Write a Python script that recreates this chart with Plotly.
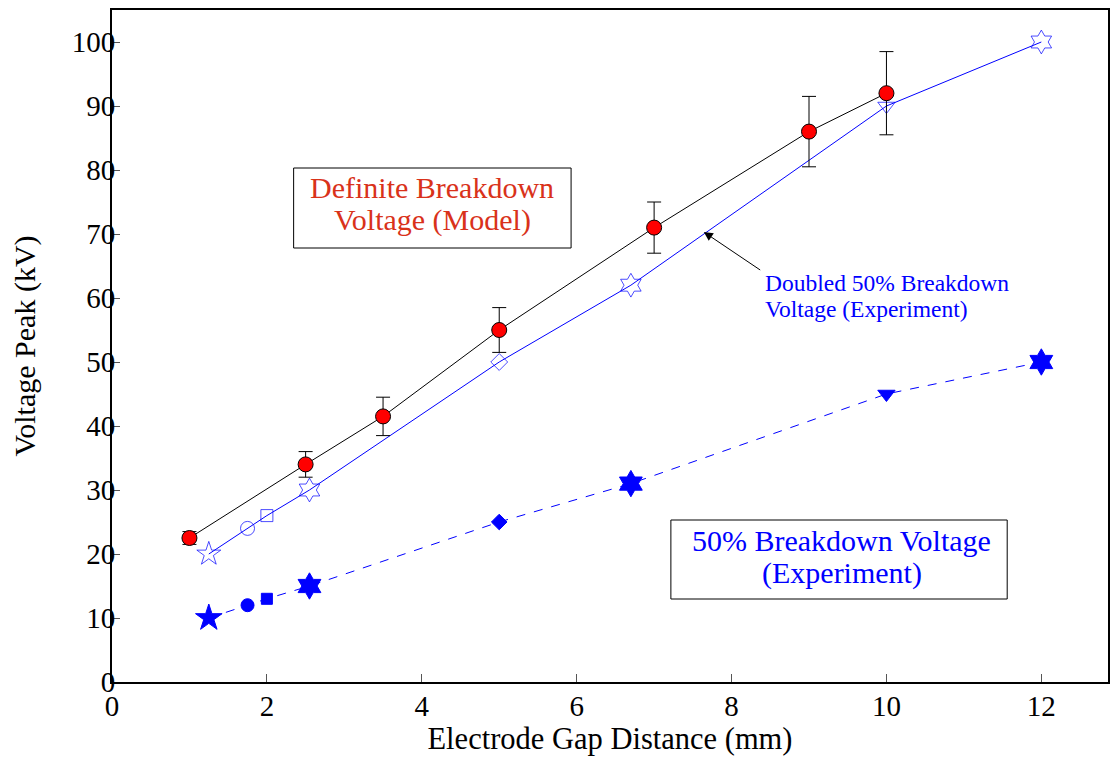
import plotly.graph_objects as go

# Definite breakdown voltage (model)
model_x = [1, 2.5, 3.5, 5, 7, 9, 10]
model_y = [22.5, 34, 41.5, 55, 71, 86, 92]
model_err = [1, 2, 3, 3.5, 4, 5.5, 6.5]

# Experiment: gap distances, 50% breakdown and doubled values
exp_x = [1.25, 1.75, 2.0, 2.55, 5.0, 6.7, 10.0, 12.0]
exp50_y = [10, 12, 13, 15, 25, 31, 45, 50]
doubled_y = [20, 24, 26, 30, 50, 62, 90, 100]
exp_symbols = ["star", "circle", "square", "hexagram", "diamond", "hexagram", "triangle-down", "hexagram"]
open_symbols = [s + "-open" for s in exp_symbols]

x_ticks = [0, 2, 4, 6, 8, 10, 12]
y_ticks = [0, 10, 20, 30, 40, 50, 60, 70, 80, 90, 100]

BLUE = "#0000ff"
RED_TEXT = "#d9321a"
FONT = '"Liberation Serif", "Times New Roman", Times, serif'

# pixel -> data helpers for annotation placement (plot area: x0=112px, y0=682px)
PX_X = 77.6
PX_Y = 6.4
def dx(px):
    return (px - 112) / PX_X
def dy(py):
    return (682 - py) / PX_Y

fig = go.Figure()

fig.add_trace(go.Scatter(
    x=exp_x, y=exp50_y, mode="lines+markers",
    line=dict(color=BLUE, width=1, dash="dash"),
    marker=dict(symbol=exp_symbols, size=[20, 13, 11, 20, 12, 20, 15, 20], color=BLUE,
                opacity=1, line=dict(width=1, color=BLUE)),
    showlegend=False))

fig.add_trace(go.Scatter(
    x=exp_x, y=doubled_y, mode="lines+markers",
    line=dict(color=BLUE, width=1),
    marker=dict(symbol=open_symbols, size=[18, 14, 12, 18, 13, 18, 15, 18], color=BLUE,
                line=dict(width=1, color=BLUE)),
    showlegend=False))

fig.add_trace(go.Scatter(
    x=model_x, y=model_y, mode="lines+markers",
    line=dict(color="black", width=1),
    marker=dict(symbol="circle", size=15, color="#ff0000", line=dict(width=1, color="black")),
    error_y=dict(type="data", array=model_err, visible=True, color="black", thickness=1, width=7),
    showlegend=False))

# Text boxes
fig.add_shape(type="rect", xref="x", yref="y", x0=dx(294), x1=dx(572), y0=dy(168), y1=dy(248),
              line=dict(color="black", width=1), fillcolor="white", layer="above")
fig.add_shape(type="rect", xref="x", yref="y", x0=dx(672), x1=dx(1009), y0=dy(520), y1=dy(599),
              line=dict(color="black", width=1), fillcolor="white", layer="above")

def text_line(px, py, txt, color, size, anchor="center"):
    fig.add_annotation(x=dx(px), y=dy(py), xref="x", yref="y", text=txt, showarrow=False,
                       font=dict(family=FONT, size=size, color=color),
                       xanchor=anchor, yanchor="middle")

text_line(433, 187, "Definite Breakdown", RED_TEXT, 30)
text_line(433, 220, "Voltage (Model)", RED_TEXT, 30)
text_line(843, 540, "50% Breakdown Voltage", BLUE, 30)
text_line(843, 573, "(Experiment)", BLUE, 30)
text_line(764, 283, "Doubled 50% Breakdown", BLUE, 23.5, "left")
text_line(764, 309, "Voltage (Experiment)", BLUE, 23.5, "left")

fig.add_annotation(x=dx(705), y=dy(232), xref="x", yref="y",
                   ax=dx(763), ay=dy(271), axref="x", ayref="y",
                   text="", showarrow=True, arrowhead=2, arrowsize=1.8, arrowwidth=1,
                   arrowcolor="black")

fig.update_layout(
    width=1112, height=761,
    margin=dict(l=112, r=2, t=10, b=79),
    paper_bgcolor="white", plot_bgcolor="white",
    font=dict(family=FONT, size=29, color="black"),
    xaxis=dict(range=[0, 998 / PX_X], tickvals=x_ticks, ticks="inside", ticklen=8,
               tickcolor="#555555", showline=True, linecolor="black", linewidth=2, mirror=True,
               showgrid=False, zeroline=False, tickfont=dict(size=29), ticklabelstandoff=-3,
               title=dict(text="Electrode Gap Distance (mm)", font=dict(size=30.5), standoff=6)),
    yaxis=dict(range=[0, 105], tickvals=y_ticks, ticks="inside", ticklen=8,
               tickcolor="#555555", showline=True, linecolor="black", linewidth=2, mirror=True,
               showgrid=False, zeroline=False, tickfont=dict(size=29), ticklabelstandoff=-11,
               title=dict(text="Voltage Peak (kV)", font=dict(size=30), standoff=27)),
)

fig.write_html("out.html")
